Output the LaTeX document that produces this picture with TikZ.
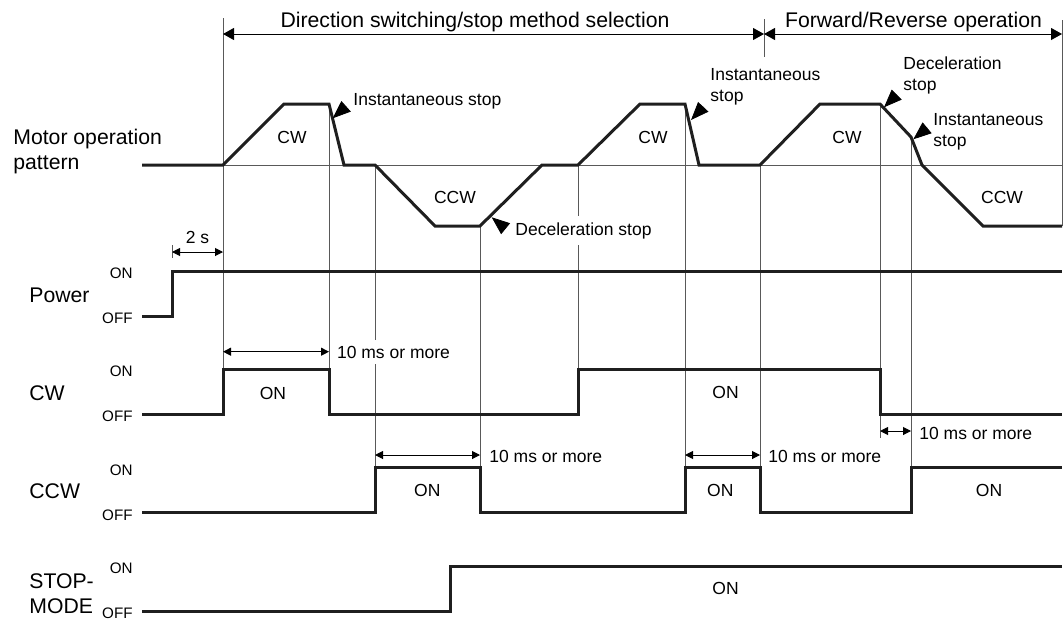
\documentclass[tikz,border=0pt]{standalone}
\usepackage{fontspec}
\setmainfont{Liberation Sans}
\usetikzlibrary{arrows.meta,calc}

\begin{document}
\begin{tikzpicture}[x=0.5pt, y=-0.5pt, line join=miter,
	every node/.style={font=\fontsize{8.75}{10.5}\selectfont, inner sep=0pt},
	wave/.style={line width=1.5pt, black!88},
	guide/.style={line width=0.45pt, black!65},
	dimarrow/.style={line width=0.5pt, {Triangle[length=4pt,width=4pt]}-{Triangle[length=4pt,width=4pt]}},
	spanarrow/.style={line width=0.5pt, {Triangle[length=5.5pt,width=6pt]}-{Triangle[length=5.5pt,width=6pt]}},
	pointer/.style={-{Triangle[length=9pt,width=7pt]}},
	signame/.style={anchor=base west, font=\fontsize{10.6}{12.5}\selectfont},
	level/.style={anchor=east, font=\fontsize{7.6}{9}\selectfont},
	gapnote/.style={anchor=base west, fill=white, inner xsep=2pt, inner ysep=3pt}]
	\useasboundingbox (0,0) rectangle (1063,621);

	% time guides
	\foreach \x/\ya/\yb in {223/18/369.5, 329/104/369.5, 375/165/467.8, 480/226/467.8,
		578/165/369.5, 685/104/467.8, 760/165/467.8, 764/19/57, 880/104/438,
		911/137/467.8, 1062/20/226, 172/245/258}
		\draw[guide] (\x,\ya) -- (\x,\yb);
	\draw[guide] (223,165) -- (1062,165);

	% phases on top
	\coordinate (selL) at (223,34);
	\coordinate (selR) at (764,34);
	\coordinate (fwdR) at (1062,34);
	\draw[spanarrow] (selL) -- (selR);
	\draw[spanarrow] (selR) -- (fwdR);
	\node[anchor=base, font=\fontsize{10.6}{12.5}\selectfont] (seltitle) at (475,27.3) {Direction switching/stop method selection};
	\node[anchor=base, font=\fontsize{10.6}{12.5}\selectfont] (fwdtitle) at (913.5,27) {Forward/Reverse operation};

	% motor pattern
	\draw[wave] (142,165) -- (223,165) -- (284,104) -- (329,104) -- (344,165) -- (375,165)
		-- (435,226) -- (480,226) -- (542,165) -- (578,165) -- (640,104) -- (685,104)
		-- (699,165) -- (760,165) -- (820,104) -- (880,104) -- (911,137) -- (922,165)
		-- (983,226) -- (1062,226);
	\foreach \t/\x/\y [count=\i] in {CW/292/137, CCW/455/197, CW/653/137, CW/847/137, CCW/1002/197}
		\node (dir\i) at (\x,\y) {\t};

	% stop notes
	\node[anchor=base west] (inst1) at (353,105) {Instantaneous stop};
	\node[anchor=north west, align=left] (inst2) at (710,68.3) {Instantaneous\\stop};
	\node[anchor=north west, align=left] (decel2) at (903,56.7) {Deceleration\\stop};
	\node[anchor=north west, align=left] (inst3) at (933,112.7) {Instantaneous\\stop};
	\node[gapnote] (decel1) at (511,235) {Deceleration stop};
	\coordinate (ptA) at (332.7,118.3);
	\coordinate (ptB) at (691,120);
	\coordinate (ptC) at (884,107.3);
	\coordinate (ptD) at (913.3,139.3);
	\coordinate (ptE) at (491.7,217.3);
	\draw[pointer] ($(ptA)+(13.4,-12)$) -- (ptA);
	\draw[pointer] ($(ptB)+(12.3,-13.2)$) -- (ptB);
	\draw[pointer] ($(ptC)+(12.7,-12.7)$) -- (ptC);
	\draw[pointer] ($(ptD)+(13.8,-11.5)$) -- (ptD);
	\draw[pointer] ($(ptE)+(13.9,11.4)$) -- (ptE);

	% signals
	\draw[wave] (142,316.7) -- (172,316.7) -- (172,271.7) -- (1062,271.7);
	\draw[wave] (142,414.3) -- (223,414.3) -- (223,369.5) -- (329,369.5) -- (329,414.3)
		-- (578,414.3) -- (578,369.5) -- (880,369.5) -- (880,414.3) -- (1062,414.3);
	\draw[wave] (142,512.8) -- (375,512.8) -- (375,467.8) -- (480,467.8) -- (480,512.8)
		-- (685,512.8) -- (685,467.8) -- (760,467.8) -- (760,512.8) -- (911,512.8)
		-- (911,467.8) -- (1062,467.8);
	\draw[wave] (142,611.7) -- (450,611.7) -- (450,566) -- (1062,566);

	\node[anchor=north west, align=left, font=\fontsize{10.6}{12.5}\selectfont] (motorname) at (13,128.3) {Motor operation\\pattern};
	\node[signame] (pwrname) at (29,302.7) {Power};
	\node[signame] (cwname) at (29,400) {CW};
	\node[signame] (ccwname) at (29,498.3) {CCW};
	\node[signame, anchor=north west, align=left] (stopname) at (29,573.3) {STOP-\\MODE};
	\foreach \name/\on/\off in {pwr/271.7/316.7, cw/369.5/414.3, ccw/467.8/512.8, stop/566/611.7} {
		\node[level] (\name-on) at (133,\on+2) {ON};
		\node[level] (\name-off) at (133,\off+2) {OFF};
	}
	\foreach \x/\y [count=\i] in {273/393.3, 725.5/392.7, 427.3/490.7, 720.3/490.7, 989/490.7, 725.5/588}
		\node (pulse\i) at (\x,\y) {ON};

	% timing requirements
	\coordinate (pwrL) at (172,252);
	\coordinate (pwrR) at (223,252);
	\draw[dimarrow] (pwrL) -- (pwrR);
	\node (twos) at (197.5,237.5) {2 s};
	\coordinate (msAL) at (223,351.7);
	\coordinate (msAR) at (329,351.7);
	\coordinate (msBL) at (375,455);
	\coordinate (msBR) at (480,455);
	\coordinate (msCL) at (685,455);
	\coordinate (msCR) at (760,455);
	\coordinate (msDL) at (880,431);
	\coordinate (msDR) at (911,431);
	\foreach \p in {A,B,C,D}
		\draw[dimarrow] (ms\p L) -- (ms\p R);
	\node[gapnote] (ms1) at (332.7,358.3) {10 ms or more};
	\node[gapnote] (ms2) at (485,462.3) {10 ms or more};
	\node[gapnote] (ms3) at (764,462.3) {10 ms or more};
	\node[gapnote] (ms4) at (915,439.3) {10 ms or more};
\end{tikzpicture}
\end{document}
